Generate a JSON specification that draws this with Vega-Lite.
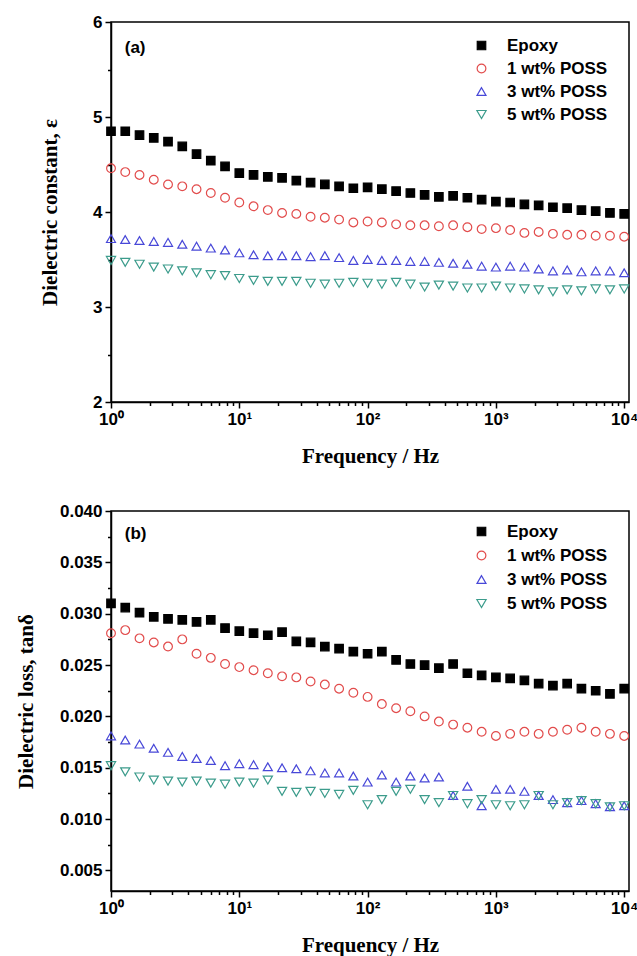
{
"$schema": "https://vega.github.io/schema/vega-lite/v6.json",
"padding": {"left": 14, "top": 12, "right": 5, "bottom": 5},
"bounds": "flush",
"spacing": 109,
"background": "white",
"config": {
  "view": {"stroke": "#000", "strokeWidth": 1.5},
  "axis": {"grid": false, "domainColor": "#000", "domainWidth": 1.5, "tickColor": "#000", "tickWidth": 1.5, "tickSize": 6,
    "labelFont": "Liberation Sans", "labelFontWeight": "bold", "labelFontSize": 17, "labelColor": "#000", "labelPadding": 3,
    "labelFlush": false, "labelOverlap": false, "labelBound": false,
    "titleFont": "Liberation Serif", "titleFontWeight": "bold", "titleFontSize": 21, "titleColor": "#000"}
},
"resolve": {"scale": {"shape": "independent", "fill": "independent", "stroke": "independent", "size": "independent"}},
"datasets": {
"a": [
{"s":"Epoxy","f":1,"v":4.85},{"s":"Epoxy","f":1.2915,"v":4.85},{"s":"Epoxy","f":1.6681,"v":4.81},{"s":"Epoxy","f":2.1544,"v":4.78},{"s":"Epoxy","f":2.7826,"v":4.74},{"s":"Epoxy","f":3.5938,"v":4.69},{"s":"Epoxy","f":4.6416,"v":4.61},{"s":"Epoxy","f":5.9948,"v":4.54},{"s":"Epoxy","f":7.7426,"v":4.48},{"s":"Epoxy","f":10,"v":4.41},{"s":"Epoxy","f":12.915,"v":4.39},{"s":"Epoxy","f":16.681,"v":4.37},{"s":"Epoxy","f":21.544,"v":4.36},{"s":"Epoxy","f":27.826,"v":4.33},{"s":"Epoxy","f":35.938,"v":4.31},{"s":"Epoxy","f":46.416,"v":4.29},{"s":"Epoxy","f":59.948,"v":4.27},{"s":"Epoxy","f":77.426,"v":4.25},{"s":"Epoxy","f":100,"v":4.26},{"s":"Epoxy","f":129.15,"v":4.24},{"s":"Epoxy","f":166.81,"v":4.22},{"s":"Epoxy","f":215.44,"v":4.20},{"s":"Epoxy","f":278.26,"v":4.18},{"s":"Epoxy","f":359.38,"v":4.16},{"s":"Epoxy","f":464.16,"v":4.17},{"s":"Epoxy","f":599.48,"v":4.15},{"s":"Epoxy","f":774.26,"v":4.13},{"s":"Epoxy","f":1000,"v":4.11},{"s":"Epoxy","f":1291.5,"v":4.10},{"s":"Epoxy","f":1668.1,"v":4.08},{"s":"Epoxy","f":2154.4,"v":4.07},{"s":"Epoxy","f":2782.6,"v":4.05},{"s":"Epoxy","f":3593.8,"v":4.04},{"s":"Epoxy","f":4641.6,"v":4.02},{"s":"Epoxy","f":5994.8,"v":4.01},{"s":"Epoxy","f":7742.6,"v":3.99},{"s":"Epoxy","f":10000,"v":3.98},
{"s":"1 wt% POSS","f":1,"v":4.46},{"s":"1 wt% POSS","f":1.2915,"v":4.42},{"s":"1 wt% POSS","f":1.6681,"v":4.39},{"s":"1 wt% POSS","f":2.1544,"v":4.34},{"s":"1 wt% POSS","f":2.7826,"v":4.29},{"s":"1 wt% POSS","f":3.5938,"v":4.27},{"s":"1 wt% POSS","f":4.6416,"v":4.24},{"s":"1 wt% POSS","f":5.9948,"v":4.20},{"s":"1 wt% POSS","f":7.7426,"v":4.15},{"s":"1 wt% POSS","f":10,"v":4.10},{"s":"1 wt% POSS","f":12.915,"v":4.06},{"s":"1 wt% POSS","f":16.681,"v":4.02},{"s":"1 wt% POSS","f":21.544,"v":3.99},{"s":"1 wt% POSS","f":27.826,"v":3.98},{"s":"1 wt% POSS","f":35.938,"v":3.95},{"s":"1 wt% POSS","f":46.416,"v":3.94},{"s":"1 wt% POSS","f":59.948,"v":3.92},{"s":"1 wt% POSS","f":77.426,"v":3.89},{"s":"1 wt% POSS","f":100,"v":3.90},{"s":"1 wt% POSS","f":129.15,"v":3.89},{"s":"1 wt% POSS","f":166.81,"v":3.87},{"s":"1 wt% POSS","f":215.44,"v":3.86},{"s":"1 wt% POSS","f":278.26,"v":3.86},{"s":"1 wt% POSS","f":359.38,"v":3.85},{"s":"1 wt% POSS","f":464.16,"v":3.86},{"s":"1 wt% POSS","f":599.48,"v":3.84},{"s":"1 wt% POSS","f":774.26,"v":3.82},{"s":"1 wt% POSS","f":1000,"v":3.83},{"s":"1 wt% POSS","f":1291.5,"v":3.81},{"s":"1 wt% POSS","f":1668.1,"v":3.78},{"s":"1 wt% POSS","f":2154.4,"v":3.79},{"s":"1 wt% POSS","f":2782.6,"v":3.77},{"s":"1 wt% POSS","f":3593.8,"v":3.76},{"s":"1 wt% POSS","f":4641.6,"v":3.76},{"s":"1 wt% POSS","f":5994.8,"v":3.75},{"s":"1 wt% POSS","f":7742.6,"v":3.75},{"s":"1 wt% POSS","f":10000,"v":3.74},
{"s":"3 wt% POSS","f":1,"v":3.72},{"s":"3 wt% POSS","f":1.2915,"v":3.71},{"s":"3 wt% POSS","f":1.6681,"v":3.70},{"s":"3 wt% POSS","f":2.1544,"v":3.69},{"s":"3 wt% POSS","f":2.7826,"v":3.68},{"s":"3 wt% POSS","f":3.5938,"v":3.66},{"s":"3 wt% POSS","f":4.6416,"v":3.64},{"s":"3 wt% POSS","f":5.9948,"v":3.62},{"s":"3 wt% POSS","f":7.7426,"v":3.60},{"s":"3 wt% POSS","f":10,"v":3.57},{"s":"3 wt% POSS","f":12.915,"v":3.55},{"s":"3 wt% POSS","f":16.681,"v":3.54},{"s":"3 wt% POSS","f":21.544,"v":3.54},{"s":"3 wt% POSS","f":27.826,"v":3.54},{"s":"3 wt% POSS","f":35.938,"v":3.53},{"s":"3 wt% POSS","f":46.416,"v":3.54},{"s":"3 wt% POSS","f":59.948,"v":3.52},{"s":"3 wt% POSS","f":77.426,"v":3.49},{"s":"3 wt% POSS","f":100,"v":3.50},{"s":"3 wt% POSS","f":129.15,"v":3.49},{"s":"3 wt% POSS","f":166.81,"v":3.49},{"s":"3 wt% POSS","f":215.44,"v":3.48},{"s":"3 wt% POSS","f":278.26,"v":3.48},{"s":"3 wt% POSS","f":359.38,"v":3.47},{"s":"3 wt% POSS","f":464.16,"v":3.46},{"s":"3 wt% POSS","f":599.48,"v":3.45},{"s":"3 wt% POSS","f":774.26,"v":3.43},{"s":"3 wt% POSS","f":1000,"v":3.42},{"s":"3 wt% POSS","f":1291.5,"v":3.43},{"s":"3 wt% POSS","f":1668.1,"v":3.42},{"s":"3 wt% POSS","f":2154.4,"v":3.40},{"s":"3 wt% POSS","f":2782.6,"v":3.38},{"s":"3 wt% POSS","f":3593.8,"v":3.39},{"s":"3 wt% POSS","f":4641.6,"v":3.37},{"s":"3 wt% POSS","f":5994.8,"v":3.38},{"s":"3 wt% POSS","f":7742.6,"v":3.38},{"s":"3 wt% POSS","f":10000,"v":3.36},
{"s":"5 wt% POSS","f":1,"v":3.49},{"s":"5 wt% POSS","f":1.2915,"v":3.47},{"s":"5 wt% POSS","f":1.6681,"v":3.45},{"s":"5 wt% POSS","f":2.1544,"v":3.42},{"s":"5 wt% POSS","f":2.7826,"v":3.40},{"s":"5 wt% POSS","f":3.5938,"v":3.38},{"s":"5 wt% POSS","f":4.6416,"v":3.36},{"s":"5 wt% POSS","f":5.9948,"v":3.34},{"s":"5 wt% POSS","f":7.7426,"v":3.33},{"s":"5 wt% POSS","f":10,"v":3.30},{"s":"5 wt% POSS","f":12.915,"v":3.28},{"s":"5 wt% POSS","f":16.681,"v":3.27},{"s":"5 wt% POSS","f":21.544,"v":3.27},{"s":"5 wt% POSS","f":27.826,"v":3.27},{"s":"5 wt% POSS","f":35.938,"v":3.25},{"s":"5 wt% POSS","f":46.416,"v":3.24},{"s":"5 wt% POSS","f":59.948,"v":3.25},{"s":"5 wt% POSS","f":77.426,"v":3.26},{"s":"5 wt% POSS","f":100,"v":3.25},{"s":"5 wt% POSS","f":129.15,"v":3.24},{"s":"5 wt% POSS","f":166.81,"v":3.26},{"s":"5 wt% POSS","f":215.44,"v":3.24},{"s":"5 wt% POSS","f":278.26,"v":3.21},{"s":"5 wt% POSS","f":359.38,"v":3.23},{"s":"5 wt% POSS","f":464.16,"v":3.22},{"s":"5 wt% POSS","f":599.48,"v":3.20},{"s":"5 wt% POSS","f":774.26,"v":3.20},{"s":"5 wt% POSS","f":1000,"v":3.22},{"s":"5 wt% POSS","f":1291.5,"v":3.20},{"s":"5 wt% POSS","f":1668.1,"v":3.19},{"s":"5 wt% POSS","f":2154.4,"v":3.18},{"s":"5 wt% POSS","f":2782.6,"v":3.16},{"s":"5 wt% POSS","f":3593.8,"v":3.18},{"s":"5 wt% POSS","f":4641.6,"v":3.17},{"s":"5 wt% POSS","f":5994.8,"v":3.19},{"s":"5 wt% POSS","f":7742.6,"v":3.18},{"s":"5 wt% POSS","f":10000,"v":3.19}
],
"b": [
{"s":"Epoxy","f":1,"v":0.0310},{"s":"Epoxy","f":1.2915,"v":0.0306},{"s":"Epoxy","f":1.6681,"v":0.0301},{"s":"Epoxy","f":2.1544,"v":0.0297},{"s":"Epoxy","f":2.7826,"v":0.0295},{"s":"Epoxy","f":3.5938,"v":0.0294},{"s":"Epoxy","f":4.6416,"v":0.0292},{"s":"Epoxy","f":5.9948,"v":0.0294},{"s":"Epoxy","f":7.7426,"v":0.0286},{"s":"Epoxy","f":10,"v":0.0283},{"s":"Epoxy","f":12.915,"v":0.0281},{"s":"Epoxy","f":16.681,"v":0.0279},{"s":"Epoxy","f":21.544,"v":0.0282},{"s":"Epoxy","f":27.826,"v":0.0273},{"s":"Epoxy","f":35.938,"v":0.0272},{"s":"Epoxy","f":46.416,"v":0.0268},{"s":"Epoxy","f":59.948,"v":0.0266},{"s":"Epoxy","f":77.426,"v":0.0263},{"s":"Epoxy","f":100,"v":0.0261},{"s":"Epoxy","f":129.15,"v":0.0263},{"s":"Epoxy","f":166.81,"v":0.0255},{"s":"Epoxy","f":215.44,"v":0.0251},{"s":"Epoxy","f":278.26,"v":0.0250},{"s":"Epoxy","f":359.38,"v":0.0247},{"s":"Epoxy","f":464.16,"v":0.0251},{"s":"Epoxy","f":599.48,"v":0.0242},{"s":"Epoxy","f":774.26,"v":0.0240},{"s":"Epoxy","f":1000,"v":0.0238},{"s":"Epoxy","f":1291.5,"v":0.0237},{"s":"Epoxy","f":1668.1,"v":0.0235},{"s":"Epoxy","f":2154.4,"v":0.0232},{"s":"Epoxy","f":2782.6,"v":0.0230},{"s":"Epoxy","f":3593.8,"v":0.0232},{"s":"Epoxy","f":4641.6,"v":0.0227},{"s":"Epoxy","f":5994.8,"v":0.0225},{"s":"Epoxy","f":7742.6,"v":0.0222},{"s":"Epoxy","f":10000,"v":0.0227},
{"s":"1 wt% POSS","f":1,"v":0.0281},{"s":"1 wt% POSS","f":1.2915,"v":0.0284},{"s":"1 wt% POSS","f":1.6681,"v":0.0276},{"s":"1 wt% POSS","f":2.1544,"v":0.0272},{"s":"1 wt% POSS","f":2.7826,"v":0.0268},{"s":"1 wt% POSS","f":3.5938,"v":0.0275},{"s":"1 wt% POSS","f":4.6416,"v":0.0261},{"s":"1 wt% POSS","f":5.9948,"v":0.0257},{"s":"1 wt% POSS","f":7.7426,"v":0.0251},{"s":"1 wt% POSS","f":10,"v":0.0248},{"s":"1 wt% POSS","f":12.915,"v":0.0245},{"s":"1 wt% POSS","f":16.681,"v":0.0242},{"s":"1 wt% POSS","f":21.544,"v":0.0239},{"s":"1 wt% POSS","f":27.826,"v":0.0238},{"s":"1 wt% POSS","f":35.938,"v":0.0234},{"s":"1 wt% POSS","f":46.416,"v":0.0231},{"s":"1 wt% POSS","f":59.948,"v":0.0227},{"s":"1 wt% POSS","f":77.426,"v":0.0223},{"s":"1 wt% POSS","f":100,"v":0.0219},{"s":"1 wt% POSS","f":129.15,"v":0.0212},{"s":"1 wt% POSS","f":166.81,"v":0.0208},{"s":"1 wt% POSS","f":215.44,"v":0.0205},{"s":"1 wt% POSS","f":278.26,"v":0.0200},{"s":"1 wt% POSS","f":359.38,"v":0.0195},{"s":"1 wt% POSS","f":464.16,"v":0.0192},{"s":"1 wt% POSS","f":599.48,"v":0.0189},{"s":"1 wt% POSS","f":774.26,"v":0.0185},{"s":"1 wt% POSS","f":1000,"v":0.0181},{"s":"1 wt% POSS","f":1291.5,"v":0.0183},{"s":"1 wt% POSS","f":1668.1,"v":0.0185},{"s":"1 wt% POSS","f":2154.4,"v":0.0183},{"s":"1 wt% POSS","f":2782.6,"v":0.0185},{"s":"1 wt% POSS","f":3593.8,"v":0.0187},{"s":"1 wt% POSS","f":4641.6,"v":0.0189},{"s":"1 wt% POSS","f":5994.8,"v":0.0185},{"s":"1 wt% POSS","f":7742.6,"v":0.0183},{"s":"1 wt% POSS","f":10000,"v":0.0181},
{"s":"3 wt% POSS","f":1,"v":0.0181},{"s":"3 wt% POSS","f":1.2915,"v":0.0177},{"s":"3 wt% POSS","f":1.6681,"v":0.0173},{"s":"3 wt% POSS","f":2.1544,"v":0.0169},{"s":"3 wt% POSS","f":2.7826,"v":0.0165},{"s":"3 wt% POSS","f":3.5938,"v":0.0161},{"s":"3 wt% POSS","f":4.6416,"v":0.0159},{"s":"3 wt% POSS","f":5.9948,"v":0.0157},{"s":"3 wt% POSS","f":7.7426,"v":0.0152},{"s":"3 wt% POSS","f":10,"v":0.0154},{"s":"3 wt% POSS","f":12.915,"v":0.0153},{"s":"3 wt% POSS","f":16.681,"v":0.0151},{"s":"3 wt% POSS","f":21.544,"v":0.0150},{"s":"3 wt% POSS","f":27.826,"v":0.0149},{"s":"3 wt% POSS","f":35.938,"v":0.0147},{"s":"3 wt% POSS","f":46.416,"v":0.0145},{"s":"3 wt% POSS","f":59.948,"v":0.0145},{"s":"3 wt% POSS","f":77.426,"v":0.0142},{"s":"3 wt% POSS","f":100,"v":0.0136},{"s":"3 wt% POSS","f":129.15,"v":0.0143},{"s":"3 wt% POSS","f":166.81,"v":0.0136},{"s":"3 wt% POSS","f":215.44,"v":0.0142},{"s":"3 wt% POSS","f":278.26,"v":0.0140},{"s":"3 wt% POSS","f":359.38,"v":0.0141},{"s":"3 wt% POSS","f":464.16,"v":0.0123},{"s":"3 wt% POSS","f":599.48,"v":0.0132},{"s":"3 wt% POSS","f":774.26,"v":0.0113},{"s":"3 wt% POSS","f":1000,"v":0.0129},{"s":"3 wt% POSS","f":1291.5,"v":0.0129},{"s":"3 wt% POSS","f":1668.1,"v":0.0127},{"s":"3 wt% POSS","f":2154.4,"v":0.0123},{"s":"3 wt% POSS","f":2782.6,"v":0.0119},{"s":"3 wt% POSS","f":3593.8,"v":0.0116},{"s":"3 wt% POSS","f":4641.6,"v":0.0118},{"s":"3 wt% POSS","f":5994.8,"v":0.0115},{"s":"3 wt% POSS","f":7742.6,"v":0.0112},{"s":"3 wt% POSS","f":10000,"v":0.0113},
{"s":"5 wt% POSS","f":1,"v":0.0152},{"s":"5 wt% POSS","f":1.2915,"v":0.0146},{"s":"5 wt% POSS","f":1.6681,"v":0.0141},{"s":"5 wt% POSS","f":2.1544,"v":0.0138},{"s":"5 wt% POSS","f":2.7826,"v":0.0137},{"s":"5 wt% POSS","f":3.5938,"v":0.0136},{"s":"5 wt% POSS","f":4.6416,"v":0.0137},{"s":"5 wt% POSS","f":5.9948,"v":0.0135},{"s":"5 wt% POSS","f":7.7426,"v":0.0134},{"s":"5 wt% POSS","f":10,"v":0.0136},{"s":"5 wt% POSS","f":12.915,"v":0.0135},{"s":"5 wt% POSS","f":16.681,"v":0.0138},{"s":"5 wt% POSS","f":21.544,"v":0.0127},{"s":"5 wt% POSS","f":27.826,"v":0.0126},{"s":"5 wt% POSS","f":35.938,"v":0.0127},{"s":"5 wt% POSS","f":46.416,"v":0.0125},{"s":"5 wt% POSS","f":59.948,"v":0.0124},{"s":"5 wt% POSS","f":77.426,"v":0.0128},{"s":"5 wt% POSS","f":100,"v":0.0114},{"s":"5 wt% POSS","f":129.15,"v":0.0119},{"s":"5 wt% POSS","f":166.81,"v":0.0127},{"s":"5 wt% POSS","f":215.44,"v":0.0129},{"s":"5 wt% POSS","f":278.26,"v":0.0119},{"s":"5 wt% POSS","f":359.38,"v":0.0116},{"s":"5 wt% POSS","f":464.16,"v":0.0123},{"s":"5 wt% POSS","f":599.48,"v":0.0115},{"s":"5 wt% POSS","f":774.26,"v":0.0119},{"s":"5 wt% POSS","f":1000,"v":0.0114},{"s":"5 wt% POSS","f":1291.5,"v":0.0113},{"s":"5 wt% POSS","f":1668.1,"v":0.0114},{"s":"5 wt% POSS","f":2154.4,"v":0.0123},{"s":"5 wt% POSS","f":2782.6,"v":0.0114},{"s":"5 wt% POSS","f":3593.8,"v":0.0116},{"s":"5 wt% POSS","f":4641.6,"v":0.0118},{"s":"5 wt% POSS","f":5994.8,"v":0.0115},{"s":"5 wt% POSS","f":7742.6,"v":0.0112},{"s":"5 wt% POSS","f":10000,"v":0.0113}
]
},
"vconcat": [
{
  "width": 518, "height": 380,
  "layer": [
    {
      "data": {"name": "a"},
      "mark": {"type": "point", "opacity": 1, "strokeWidth": 1.2},
      "encoding": {
        "x": {"field": "f", "type": "quantitative", "scale": {"type": "log", "domain": [1, 10900], "nice": false},
          "axis": {"values": [1, 10, 100, 1000, 10000], "labelExpr": "datum.value == 1 ? '10⁰' : datum.value == 10 ? '10¹' : datum.value == 100 ? '10²' : datum.value == 1000 ? '10³' : '10⁴'", "title": "Frequency / Hz", "titlePadding": 18}},
        "y": {"field": "v", "type": "quantitative", "scale": {"domain": [2, 6], "nice": false, "zero": false},
          "axis": {"values": [2, 3, 4, 5, 6], "format": "d", "title": "Dielectric constant, ε", "titlePadding": 32}},
        "shape": {"field": "s", "type": "nominal", "scale": {"domain": ["Epoxy", "1 wt% POSS", "3 wt% POSS", "5 wt% POSS"], "range": ["square", "circle", "triangle-up", "triangle-down"]},
          "legend": {"title": null, "orient": "none", "legendX": 362, "legendY": 15, "padding": 0, "labelFont": "Liberation Sans", "labelFontWeight": "bold", "labelFontSize": 17, "labelColor": "#000", "labelOffset": 17, "rowPadding": 5, "symbolStrokeWidth": 1.2}},
        "fill": {"field": "s", "type": "nominal", "scale": {"domain": ["Epoxy", "1 wt% POSS", "3 wt% POSS", "5 wt% POSS"], "range": ["#000000", "transparent", "transparent", "transparent"]},
          "legend": {"title": null, "orient": "none", "legendX": 362, "legendY": 15, "padding": 0, "labelFont": "Liberation Sans", "labelFontWeight": "bold", "labelFontSize": 17, "labelColor": "#000", "labelOffset": 17, "rowPadding": 5, "symbolStrokeWidth": 1.2}},
        "stroke": {"field": "s", "type": "nominal", "scale": {"domain": ["Epoxy", "1 wt% POSS", "3 wt% POSS", "5 wt% POSS"], "range": ["#000000", "#e24c4c", "#4848d8", "#3c9c8c"]},
          "legend": {"title": null, "orient": "none", "legendX": 362, "legendY": 15, "padding": 0, "labelFont": "Liberation Sans", "labelFontWeight": "bold", "labelFontSize": 17, "labelColor": "#000", "labelOffset": 17, "rowPadding": 5, "symbolStrokeWidth": 1.2}},
        "size": {"field": "s", "type": "nominal", "scale": {"domain": ["Epoxy", "1 wt% POSS", "3 wt% POSS", "5 wt% POSS"], "range": [72, 85, 115, 115]},
          "legend": {"title": null, "orient": "none", "legendX": 362, "legendY": 15, "padding": 0, "labelFont": "Liberation Sans", "labelFontWeight": "bold", "labelFontSize": 17, "labelColor": "#000", "labelOffset": 17, "rowPadding": 5, "symbolStrokeWidth": 1.2}}
      }
    },
    {
      "data": {"values": [{}]},
      "mark": {"type": "text", "align": "left", "baseline": "middle", "font": "Liberation Sans", "fontWeight": "bold", "fontSize": 17, "color": "#000"},
      "encoding": {
        "x": {"datum": 1.28, "type": "quantitative", "axis": {"orient": "bottom", "values": [2,3,4,5,6,7,8,9,20,30,40,50,60,70,80,90,200,300,400,500,600,700,800,900,2000,3000,4000,5000,6000,7000,8000,9000], "labels": false, "domain": false, "tickSize": 3.5, "title": null}},
        "y": {"datum": 5.73, "type": "quantitative", "axis": {"orient": "left", "values": [2.5, 3.5, 4.5, 5.5], "labels": false, "domain": false, "tickSize": 3.5, "title": null}},
        "text": {"value": "(a)"}
      }
    }
  ],
  "resolve": {"axis": {"x": "independent", "y": "independent"}}
},
{
  "width": 518, "height": 380,
  "layer": [
    {
      "data": {"name": "b"},
      "mark": {"type": "point", "opacity": 1, "strokeWidth": 1.2},
      "encoding": {
        "x": {"field": "f", "type": "quantitative", "scale": {"type": "log", "domain": [1, 10900], "nice": false},
          "axis": {"values": [1, 10, 100, 1000, 10000], "labelExpr": "datum.value == 1 ? '10⁰' : datum.value == 10 ? '10¹' : datum.value == 100 ? '10²' : datum.value == 1000 ? '10³' : '10⁴'", "title": "Frequency / Hz", "titlePadding": 18}},
        "y": {"field": "v", "type": "quantitative", "scale": {"domain": [0.003, 0.040], "nice": false, "zero": false},
          "axis": {"values": [0.005, 0.010, 0.015, 0.020, 0.025, 0.030, 0.035, 0.040], "format": ".3f", "title": "Dielectric loss, tanδ", "titlePadding": 23}},
        "shape": {"field": "s", "type": "nominal", "scale": {"domain": ["Epoxy", "1 wt% POSS", "3 wt% POSS", "5 wt% POSS"], "range": ["square", "circle", "triangle-up", "triangle-down"]},
          "legend": {"title": null, "orient": "none", "legendX": 362, "legendY": 12, "padding": 0, "labelFont": "Liberation Sans", "labelFontWeight": "bold", "labelFontSize": 17, "labelColor": "#000", "labelOffset": 17, "rowPadding": 6, "symbolStrokeWidth": 1.2}},
        "fill": {"field": "s", "type": "nominal", "scale": {"domain": ["Epoxy", "1 wt% POSS", "3 wt% POSS", "5 wt% POSS"], "range": ["#000000", "transparent", "transparent", "transparent"]},
          "legend": {"title": null, "orient": "none", "legendX": 362, "legendY": 12, "padding": 0, "labelFont": "Liberation Sans", "labelFontWeight": "bold", "labelFontSize": 17, "labelColor": "#000", "labelOffset": 17, "rowPadding": 6, "symbolStrokeWidth": 1.2}},
        "stroke": {"field": "s", "type": "nominal", "scale": {"domain": ["Epoxy", "1 wt% POSS", "3 wt% POSS", "5 wt% POSS"], "range": ["#000000", "#e24c4c", "#4848d8", "#3c9c8c"]},
          "legend": {"title": null, "orient": "none", "legendX": 362, "legendY": 12, "padding": 0, "labelFont": "Liberation Sans", "labelFontWeight": "bold", "labelFontSize": 17, "labelColor": "#000", "labelOffset": 17, "rowPadding": 6, "symbolStrokeWidth": 1.2}},
        "size": {"field": "s", "type": "nominal", "scale": {"domain": ["Epoxy", "1 wt% POSS", "3 wt% POSS", "5 wt% POSS"], "range": [72, 85, 115, 115]},
          "legend": {"title": null, "orient": "none", "legendX": 362, "legendY": 12, "padding": 0, "labelFont": "Liberation Sans", "labelFontWeight": "bold", "labelFontSize": 17, "labelColor": "#000", "labelOffset": 17, "rowPadding": 6, "symbolStrokeWidth": 1.2}}
      }
    },
    {
      "data": {"values": [{}]},
      "mark": {"type": "text", "align": "left", "baseline": "middle", "font": "Liberation Sans", "fontWeight": "bold", "fontSize": 17, "color": "#000"},
      "encoding": {
        "x": {"datum": 1.28, "type": "quantitative", "axis": {"orient": "bottom", "values": [2,3,4,5,6,7,8,9,20,30,40,50,60,70,80,90,200,300,400,500,600,700,800,900,2000,3000,4000,5000,6000,7000,8000,9000], "labels": false, "domain": false, "tickSize": 3.5, "title": null}},
        "y": {"datum": 0.0378, "type": "quantitative", "axis": {"orient": "left", "values": [0.0075, 0.0125, 0.0175, 0.0225, 0.0275, 0.0325, 0.0375], "labels": false, "domain": false, "tickSize": 3.5, "title": null}},
        "text": {"value": "(b)"}
      }
    }
  ],
  "resolve": {"axis": {"x": "independent", "y": "independent"}}
}
]
}
